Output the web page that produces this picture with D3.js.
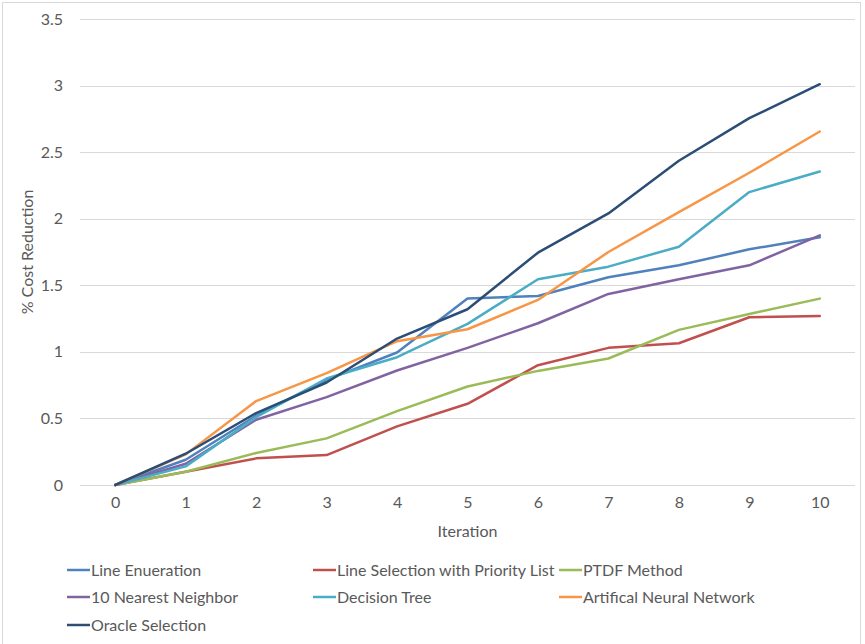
<!DOCTYPE html>
<html>
<head>
<meta charset="utf-8">
<script src="https://cdn.jsdelivr.net/npm/d3@7"></script>
<style>
  html, body { margin: 0; padding: 0; background: #fff; }
  svg text { font-family: Lato, "Open Sans", sans-serif; fill: #595959; }
</style>
</head>
<body>
<svg id="chart" width="865" height="644"></svg>
<script>
// Iterations on the category axis
const iterations = ["0", "1", "2", "3", "4", "5", "6", "7", "8", "9", "10"];

// % cost reduction per method
const lineEnumeration   = [0, 0.19, 0.52, 0.79, 0.995, 1.40, 1.42, 1.56, 1.65, 1.77, 1.86];
const prioritySelection = [0, 0.10, 0.20, 0.225, 0.44, 0.61, 0.90, 1.03, 1.065, 1.26, 1.27];
const ptdfMethod        = [0, 0.10, 0.24, 0.35, 0.555, 0.74, 0.857, 0.95, 1.165, 1.285, 1.40];
const nearestNeighbor   = [0, 0.16, 0.49, 0.66, 0.86, 1.03, 1.215, 1.435, 1.545, 1.65, 1.875];
const decisionTree      = [0, 0.14, 0.51, 0.80, 0.96, 1.21, 1.545, 1.64, 1.79, 2.20, 2.355];
const neuralNetwork     = [0, 0.23, 0.63, 0.84, 1.08, 1.17, 1.39, 1.75, 2.05, 2.345, 2.655];
const oracleSelection   = [0, 0.235, 0.54, 0.77, 1.10, 1.32, 1.745, 2.04, 2.435, 2.755, 3.01];

const yTicks = [0, 0.5, 1, 1.5, 2, 2.5, 3, 3.5];

const series = [
  { name: "Line Enueration", values: lineEnumeration, color: "#4F81BD" },
  { name: "Line Selection with Priority List", values: prioritySelection, color: "#C0504D" },
  { name: "PTDF Method", values: ptdfMethod, color: "#9BBB59" },
  { name: "10 Nearest Neighbor", values: nearestNeighbor, color: "#8064A2" },
  { name: "Decision Tree", values: decisionTree, color: "#4BACC6" },
  { name: "Artifical Neural Network", values: neuralNetwork, color: "#F79646" },
  { name: "Oracle Selection", values: oracleSelection, color: "#2C4D75" }
];

const svg = d3.select("#chart");
const plot = { left: 80, right: 855, top: 19, bottom: 485 };
const FONT = 16;

// Chart area border
svg.append("rect")
  .attr("x", 2.5).attr("y", 2.5)
  .attr("width", 858).attr("height", 660)
  .attr("fill", "#fff").attr("stroke", "#D9D9D9").attr("stroke-width", 1);

const x = d3.scalePoint().domain(iterations).range([plot.left, plot.right]).padding(0.5);
const y = d3.scaleLinear().domain([0, 3.5]).range([plot.bottom, plot.top]);

// Horizontal gridlines
svg.append("g")
  .selectAll("line")
  .data(yTicks)
  .join("line")
  .attr("x1", plot.left).attr("x2", plot.right)
  .attr("y1", d => Math.round(y(d)) + 0.5).attr("y2", d => Math.round(y(d)) + 0.5)
  .attr("stroke", "#D9D9D9").attr("stroke-width", 1);

// Y axis labels
const yAxis = d3.axisLeft(y).tickValues(yTicks).tickSize(0).tickPadding(0).tickFormat(d3.format("~g"));
svg.append("g")
  .attr("transform", `translate(${plot.left - 17},0)`)
  .call(yAxis)
  .call(g => g.select(".domain").remove())
  .selectAll("text")
  .attr("font-size", FONT).attr("fill", "#595959")
  .style("font-family", "Lato, 'Open Sans', sans-serif");

// X axis labels
const xAxis = d3.axisBottom(x).tickSize(0).tickPadding(0);
svg.append("g")
  .attr("transform", `translate(0,${plot.bottom + 12})`)
  .call(xAxis)
  .call(g => g.select(".domain").remove())
  .selectAll("text")
  .attr("font-size", FONT).attr("fill", "#595959")
  .style("font-family", "Lato, 'Open Sans', sans-serif");

// Axis titles
svg.append("text")
  .attr("x", (plot.left + plot.right) / 2).attr("y", 537)
  .attr("text-anchor", "middle").attr("font-size", FONT)
  .text("Iteration");

svg.append("text")
  .attr("transform", `translate(33,${(plot.top + plot.bottom) / 2}) rotate(-90)`)
  .attr("text-anchor", "middle").attr("font-size", FONT)
  .text("% Cost Reduction");

// Series lines
const line = d3.line()
  .x((d, i) => x(iterations[i]))
  .y(d => y(d));

svg.append("g")
  .selectAll("path")
  .data(series)
  .join("path")
  .attr("d", d => line(d.values))
  .attr("fill", "none")
  .attr("stroke", d => d.color)
  .attr("stroke-width", 2.5)
  .attr("stroke-linejoin", "round")
  .attr("stroke-linecap", "round");

// Legend: three columns, three rows
const legendCols = [67, 313, 559];
const legendRows = [570, 597, 625];
const legend = svg.append("g")
  .selectAll("g")
  .data(series)
  .join("g")
  .attr("transform", (d, i) => `translate(${legendCols[i % 3]},${legendRows[Math.floor(i / 3)]})`);

legend.append("line")
  .attr("x1", 0).attr("x2", 23)
  .attr("y1", 0).attr("y2", 0)
  .attr("stroke", d => d.color).attr("stroke-width", 2.5);

legend.append("text")
  .attr("x", 24).attr("y", 0)
  .attr("dy", "0.35em")
  .attr("font-size", FONT)
  .text(d => d.name);
</script>
</body>
</html>
